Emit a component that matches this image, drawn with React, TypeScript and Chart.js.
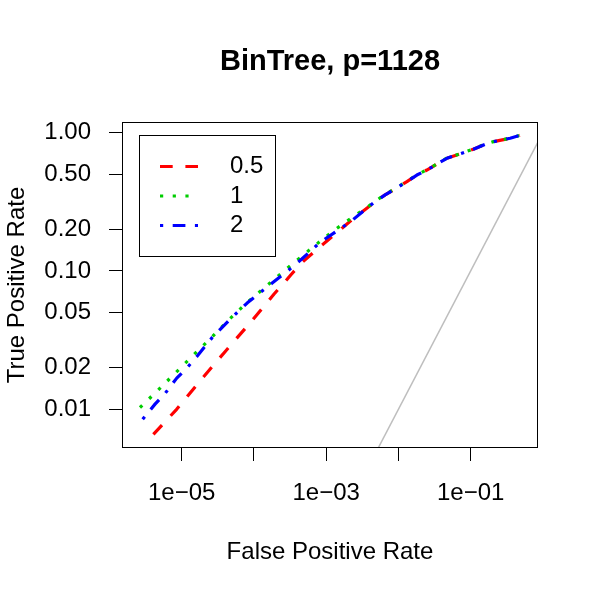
import { useEffect, useRef } from "react";
import { Chart, registerables } from "chart.js";

Chart.register(...registerables);

// ---- text ----
const chartTitle = "BinTree, p=1128";
const xAxisTitle = "False Positive Rate";
const yAxisTitle = "True Positive Rate";
const seriesLabels = ["0.5", "1", "2"];

// ---- ROC curves (false positive rate, true positive rate) ----
const fpr05 = [4.05e-6, 8.5e-6, 1.95e-5, 3.98e-5, 9.3e-5, 1.9e-4, 2.7e-4, 3.23e-4, 4.59e-4, 8.22e-4, 1.56e-3, 1.83e-3, 2.4e-3, 3.65e-3, 4.75e-3, 6.54e-3, 9.0e-3, 1.31e-2, 1.8e-2, 2.47e-2, 3.58e-2, 4.68e-2, 7.55e-2, 0.109, 0.159, 0.207, 0.352, 0.48];
const tpr05 = [0.00659, 0.01, 0.0169, 0.0261, 0.0435, 0.0682, 0.0837, 0.0935, 0.1148, 0.15, 0.198, 0.213, 0.24, 0.284, 0.317, 0.355, 0.392, 0.443, 0.494, 0.537, 0.601, 0.653, 0.71, 0.759, 0.824, 0.861, 0.912, 0.957];

const fpr1 = [2.64e-6, 4.74e-6, 8.34e-6, 1.45e-5, 2.61e-5, 4.56e-5, 8.11e-5, 1.5e-4, 2.02e-4, 2.72e-4, 3.71e-4, 6.87e-4, 1.26e-3, 2.38e-3, 3.65e-3, 4.75e-3, 6.54e-3, 9.0e-3, 1.31e-2, 1.8e-2, 2.47e-2, 3.58e-2, 4.68e-2, 7.55e-2, 0.109, 0.159, 0.207, 0.352, 0.48];
const tpr1 = [0.0103, 0.0138, 0.0185, 0.0247, 0.0332, 0.0448, 0.0594, 0.078, 0.0893, 0.1017, 0.1167, 0.1517, 0.1956, 0.247, 0.287, 0.319, 0.357, 0.394, 0.445, 0.496, 0.539, 0.603, 0.655, 0.712, 0.761, 0.826, 0.862, 0.913, 0.957];

const fpr2 = [2.88e-6, 4.27e-6, 5.87e-6, 8.53e-6, 1.2e-5, 1.61e-5, 2.61e-5, 4.56e-5, 8.11e-5, 1.77e-4, 2.79e-4, 4.59e-4, 8.22e-4, 1.48e-3, 2.26e-3, 3.65e-3, 4.75e-3, 6.54e-3, 9.0e-3, 1.31e-2, 1.8e-2, 2.47e-2, 3.58e-2, 4.68e-2, 7.55e-2, 0.109, 0.159, 0.207, 0.352, 0.48];
const tpr2 = [0.00847, 0.0109, 0.013, 0.0168, 0.0201, 0.024, 0.0328, 0.0442, 0.0589, 0.0815, 0.098, 0.122, 0.161, 0.198, 0.231, 0.284, 0.317, 0.355, 0.392, 0.443, 0.494, 0.537, 0.601, 0.653, 0.71, 0.759, 0.824, 0.861, 0.912, 0.957];

// reference diagonal y = x
const diagonalEnds = [1e-3, 1];

// ---- axes ----
const xTickValues = [1e-5, 1e-4, 1e-3, 1e-2, 1e-1];
const xTickLabels = ["1e\u221205", "", "1e\u221203", "", "1e\u221201"];
const yTickValues = [0.01, 0.02, 0.05, 0.1, 0.2, 0.5, 1];
const yTickLabels = ["0.01", "0.02", "0.05", "0.10", "0.20", "0.50", "1.00"];
const xLimits = [1.538e-6, 0.8286];
const yLimits = [0.005338, 1.175];

const FONT = "'Liberation Sans', Arial, Helvetica, sans-serif";

const pts = (xs: number[], ys: number[]) => xs.map((x, i) => ({ x, y: ys[i] }));

// box around the plotting region
const frameBox = {
  id: "frameBox",
  afterDatasetsDraw(chart: any) {
    const { ctx, chartArea } = chart;
    ctx.save();
    ctx.strokeStyle = "#000";
    ctx.lineWidth = 1;
    ctx.strokeRect(
      Math.round(chartArea.left) - 0.5,
      Math.round(chartArea.top) - 0.5,
      Math.round(chartArea.right - chartArea.left) + 1,
      Math.round(chartArea.bottom - chartArea.top) + 1
    );
    ctx.restore();
  },
};

// boxed legend inside the top-left of the plot
const boxedLegend = {
  id: "boxedLegend",
  afterDatasetsDraw(chart: any) {
    const { ctx, chartArea } = chart;
    const left = Math.round(chartArea.left + 15.5);
    const top = Math.round(chartArea.top + 11.5);
    ctx.save();
    ctx.fillStyle = "#fff";
    ctx.fillRect(left, top, 136, 121);
    ctx.strokeStyle = "#000";
    ctx.lineWidth = 1;
    ctx.strokeRect(left + 0.5, top + 0.5, 136, 121);
    seriesLabels.forEach((label, i) => {
      const ds = chart.data.datasets[i];
      const y = top + 31.5 + i * 29.5;
      ctx.setLineDash(ds.borderDash);
      ctx.strokeStyle = ds.borderColor;
      ctx.lineWidth = ds.borderWidth;
      ctx.beginPath();
      ctx.moveTo(left + 21, y);
      ctx.lineTo(left + 59, y);
      ctx.stroke();
      ctx.setLineDash([]);
      ctx.fillStyle = "#000";
      ctx.font = `24px ${FONT}`;
      ctx.textAlign = "left";
      ctx.textBaseline = "middle";
      ctx.fillText(label, left + 91, y);
    });
    ctx.restore();
  },
};

export default function App() {
  const canvasRef = useRef<HTMLCanvasElement | null>(null);

  useEffect(() => {
    if (!canvasRef.current) return;
    const lw = 3.2;
    const chart = new Chart(canvasRef.current, {
      type: "scatter",
      data: {
        datasets: [
          {
            label: seriesLabels[0],
            data: pts(fpr05, tpr05),
            showLine: true,
            borderColor: "#ff0000",
            backgroundColor: "#ff0000",
            borderWidth: lw,
            borderDash: [12.7, 12.7],
            borderJoinStyle: "round",
            pointRadius: 0,
            order: 3,
          },
          {
            label: seriesLabels[1],
            data: pts(fpr1, tpr1),
            showLine: true,
            borderColor: "#00cd00",
            backgroundColor: "#00cd00",
            borderWidth: lw,
            borderDash: [3.2, 9.5],
            borderJoinStyle: "round",
            pointRadius: 0,
            order: 2,
          },
          {
            label: seriesLabels[2],
            data: pts(fpr2, tpr2),
            showLine: true,
            borderColor: "#0000ff",
            backgroundColor: "#0000ff",
            borderWidth: lw,
            borderDash: [3.2, 9.5, 12.7, 9.5],
            borderJoinStyle: "round",
            pointRadius: 0,
            order: 1,
          },
          {
            label: "diagonal",
            data: diagonalEnds.map((v) => ({ x: v, y: v })),
            showLine: true,
            borderColor: "#bebebe",
            borderWidth: 1.5,
            pointRadius: 0,
            clip: 0,
            order: 4,
          },
        ],
      },
      options: {
        animation: false,
        responsive: true,
        maintainAspectRatio: false,
        events: [],
        layout: { padding: { left: 0, top: 0, right: 63, bottom: 0 } },
        font: { family: FONT },
        color: "#000",
        plugins: {
          legend: { display: false },
          tooltip: { enabled: false },
          title: {
            display: true,
            fullSize: false,
            text: chartTitle,
            color: "#000",
            font: { family: FONT, size: 29, weight: "bold" },
            padding: { top: 45, bottom: 43.2 },
          },
        },
        scales: {
          x: {
            type: "logarithmic",
            position: "bottom",
            min: xLimits[0],
            max: xLimits[1],
            afterBuildTicks: (scale: any) => {
              scale.ticks = xTickValues.map((value) => ({ value }));
            },
            afterFit: (scale: any) => {
              scale.height = 153;
            },
            ticks: {
              autoSkip: false,
              maxRotation: 0,
              minRotation: 0,
              padding: 18,
              color: "#000",
              font: { family: FONT, size: 24 },
              callback: (_v: any, i: number) => xTickLabels[i],
            },
            grid: {
              display: true,
              drawOnChartArea: false,
              drawTicks: true,
              tickLength: 14,
              tickColor: "#000",
              tickWidth: 1,
            },
            border: { display: false },
            title: {
              display: true,
              text: xAxisTitle,
              color: "#000",
              font: { family: FONT, size: 24 },
              padding: { top: 0, bottom: 33 },
            },
          },
          y: {
            type: "logarithmic",
            position: "left",
            min: yLimits[0],
            max: yLimits[1],
            afterBuildTicks: (scale: any) => {
              scale.ticks = yTickValues.map((value) => ({ value }));
            },
            afterFit: (scale: any) => {
              scale.width = 123;
            },
            ticks: {
              autoSkip: false,
              padding: 18,
              color: "#000",
              font: { family: FONT, size: 24 },
              callback: (_v: any, i: number) => yTickLabels[i],
            },
            grid: {
              display: true,
              drawOnChartArea: false,
              drawTicks: true,
              tickLength: 14,
              tickColor: "#000",
              tickWidth: 1,
            },
            border: { display: false },
            title: {
              display: true,
              text: yAxisTitle,
              color: "#000",
              font: { family: FONT, size: 24 },
              padding: { top: 3, bottom: 0 },
            },
          },
        },
      },
      plugins: [frameBox, boxedLegend],
    } as any);
    return () => chart.destroy();
  }, []);

  return (
    <div style={{ position: "absolute", left: 0, top: 0, width: 600, height: 600, background: "#fff" }}>
      <canvas ref={canvasRef} />
    </div>
  );
}
